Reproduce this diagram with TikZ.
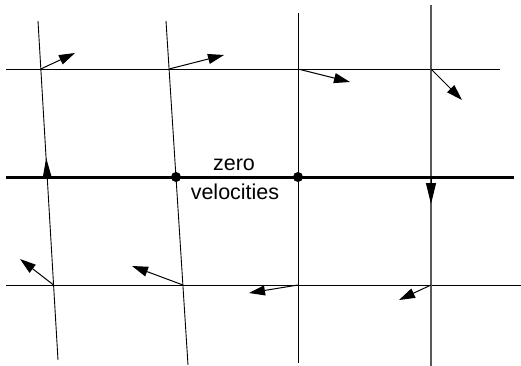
\documentclass[tikz,border=0pt]{standalone}
\usepackage{fontspec}
\setmainfont{Liberation Sans}
\usetikzlibrary{arrows.meta}
\begin{document}
\begin{tikzpicture}[x=1pt,y=-1pt,
  gridline/.style={line width=0.9pt,black},
  grayline/.style={line width=1.2pt,black!65},
  thickline/.style={line width=3pt,black},
  vel/.style={line width=1pt,-{Triangle[length=16pt,width=10pt]}},
  upArrow/.style={line width=1pt,-{Triangle[length=18pt,width=8pt]}},
  downArrow/.style={line width=1pt,-{Triangle[length=21pt,width=10pt]}},
  dotnode/.style={circle,fill=black,inner sep=0pt,minimum size=10pt},
  lbl/.style={font=\fontsize{21.5}{24}\selectfont,inner sep=0pt}]
\useasboundingbox (0,0) rectangle (521,366);
% line ends
\coordinate (h1a) at (6,69);   \coordinate (h1b) at (500,69);
\coordinate (h2a) at (6,177);  \coordinate (h2b) at (514,177);
\coordinate (h3a) at (6,285);  \coordinate (h3b) at (521,285);
\coordinate (v1a) at (38,21);  \coordinate (v1b) at (58,360);
\coordinate (v2a) at (166,21); \coordinate (v2b) at (188,365);
\coordinate (v3a) at (298,13); \coordinate (v3b) at (298,363);
\coordinate (v4a) at (431,5);  \coordinate (v4b) at (431,366);
% intersections
\coordinate (p11) at (40.8,69);  \coordinate (p12) at (169.1,69);
\coordinate (p13) at (298,69);   \coordinate (p14) at (431,69);
\coordinate (p21) at (47.2,177); \coordinate (p24) at (431,177);
\coordinate (p31) at (53.6,285); \coordinate (p32) at (182.9,285);
\coordinate (p33) at (298,285);  \coordinate (p34) at (431,285);
% tips
\coordinate (t11) at (75,53);   \coordinate (t12) at (224,55);
\coordinate (t13) at (350,82);  \coordinate (t14) at (462,100);
\coordinate (t21) at (46.2,158); \coordinate (t24) at (431,204);
\coordinate (t31) at (20,259);  \coordinate (t32) at (132,266);
\coordinate (t33) at (249,293); \coordinate (t34) at (399,300);
% grid
\draw[gridline] (h1a) -- (h1b);
\draw[gridline] (h3a) -- (h3b);
\draw[gridline] (v1a) -- (v1b);
\draw[gridline] (v2a) -- (v2b);
\draw[gridline] (v3a) -- (v3b);
\draw[grayline] (v4a) -- (v4b);
\draw[thickline] (h2a) -- (h2b);
% dots
\node[dotnode] (d1) at (176,177) {};
\node[dotnode] (d2) at (298,177) {};
% velocities
\draw[vel] (p11) -- (t11);
\draw[vel] (p12) -- (t12);
\draw[vel] (p13) -- (t13);
\draw[vel] (p14) -- (t14);
\draw[upArrow] (p21) -- (t21);
\draw[downArrow] (p24) -- (t24);
\draw[vel] (p31) -- (t31);
\draw[vel] (p32) -- (t32);
\draw[vel] (p33) -- (t33);
\draw[vel] (p34) -- (t34);
% text
\node[lbl,anchor=base] (z) at (234,170) {zero};
\node[lbl,anchor=base] (v) at (235,199) {velocities};
\end{tikzpicture}
\end{document}
